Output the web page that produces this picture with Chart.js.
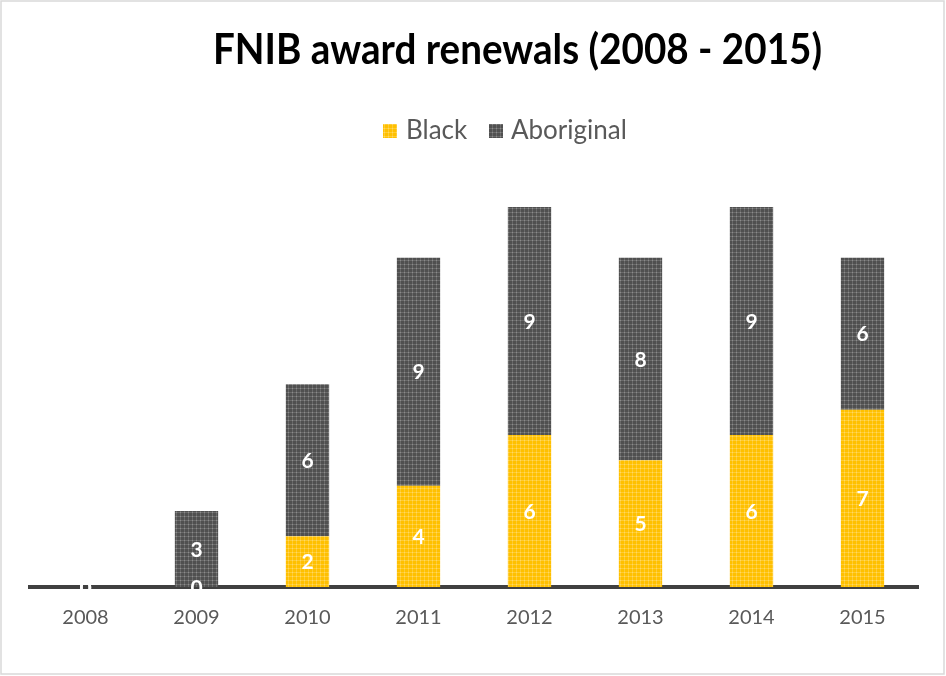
<!DOCTYPE html>
<html>
<head>
<meta charset="utf-8">
<script src="https://cdn.jsdelivr.net/npm/chart.js@4"></script>
<style>
html,body{margin:0;padding:0;background:#fff;}
#wrap{width:946px;height:676px;position:relative;}
</style>
</head>
<body>
<div id="wrap"><canvas id="c" width="946" height="676"></canvas></div>
<script>
const years = ['2008','2009','2010','2011','2012','2013','2014','2015'];
const blackValues = [0,0,2,4,6,5,6,7];
const aboriginalValues = [0,3,6,9,9,8,9,6];
const seriesNames = ['Black','Aboriginal'];
const chartTitle = 'FNIB award renewals (2008 - 2015)';

function makePattern(base, line, cross){
  const p = document.createElement('canvas');
  p.width = 4; p.height = 4;
  const g = p.getContext('2d');
  g.fillStyle = base; g.fillRect(0,0,4,4);
  g.fillStyle = line; g.fillRect(0,0,4,1); g.fillRect(0,0,1,4);
  g.fillStyle = cross; g.fillRect(0,0,1,1);
  return document.getElementById('c').getContext('2d').createPattern(p,'repeat');
}
const yellowPat = makePattern('#FFC000','#FFCC33','#FFD966');
const grayPat = makePattern('#505050','#6a6a6a','#8c8c8c');

const decor = {
  id:'decor',
  beforeDraw(chart){
    const ctx = chart.ctx;
    ctx.save();
    ctx.fillStyle='#fff'; ctx.fillRect(0,0,946,676);
    ctx.strokeStyle='#d9d9d9'; ctx.lineWidth=1.5;
    ctx.strokeRect(1,1,943,673);
    ctx.fillStyle='#000';
    ctx.font='bold 40px Lato';
    ctx.textBaseline='middle';
    ctx.textAlign='left';
    const w = ctx.measureText(chartTitle).width;
    const target = 609;
    ctx.translate(213,51);
    ctx.scale(target/w,1.03);
    ctx.fillText(chartTitle,0,0);
    ctx.restore();
    ctx.save();
    ctx.font='26px Lato';
    ctx.textBaseline='middle';
    ctx.textAlign='left';
    ctx.fillStyle=yellowPat; ctx.fillRect(383,124,14,14);
    ctx.fillStyle=grayPat; ctx.fillRect(489,124,14,14);
    ctx.fillStyle='#595959';
    ctx.fillText(seriesNames[0],406,131);
    ctx.fillText(seriesNames[1],511,131);
    ctx.restore();
  },
  afterDatasetsDraw(chart){
    const ctx = chart.ctx;
    ctx.save();
    ctx.font='bold 21px Lato';
    ctx.fillStyle='#fff';
    ctx.textAlign='center';
    ctx.textBaseline='middle';
    chart.data.datasets.forEach((ds,di)=>{
      const meta = chart.getDatasetMeta(di);
      meta.data.forEach((el,i)=>{
        const v = ds.data[i];
        const cy = (el.y+el.base)/2;
        ctx.fillText(String(v), el.x, cy+1);
      });
    });
    ctx.restore();
  }
};

new Chart(document.getElementById('c'),{
  type:'bar',
  data:{
    labels: years,
    datasets:[
      {label:seriesNames[0], data:blackValues, backgroundColor:yellowPat, borderWidth:0, categoryPercentage:1, barPercentage:0.39},
      {label:seriesNames[1], data:aboriginalValues, backgroundColor:grayPat, borderWidth:0, categoryPercentage:1, barPercentage:0.39}
    ]
  },
  options:{
    responsive:false,
    animation:false,
    layout:{padding:{left:30,right:28,top:207,bottom:10}},
    plugins:{legend:{display:false},title:{display:false},tooltip:{enabled:false}},
    scales:{
      x:{
        stacked:true,
        grid:{display:false,drawTicks:false},
        border:{display:true,color:'#404040',width:4},
        ticks:{color:'#595959',font:{family:'Lato',size:20},padding:19},
        afterFit(axis){axis.height=79;}
      },
      y:{
        stacked:true,
        display:false,
        min:0,max:15
      }
    }
  },
  plugins:[decor]
});
</script>
</body>
</html>
